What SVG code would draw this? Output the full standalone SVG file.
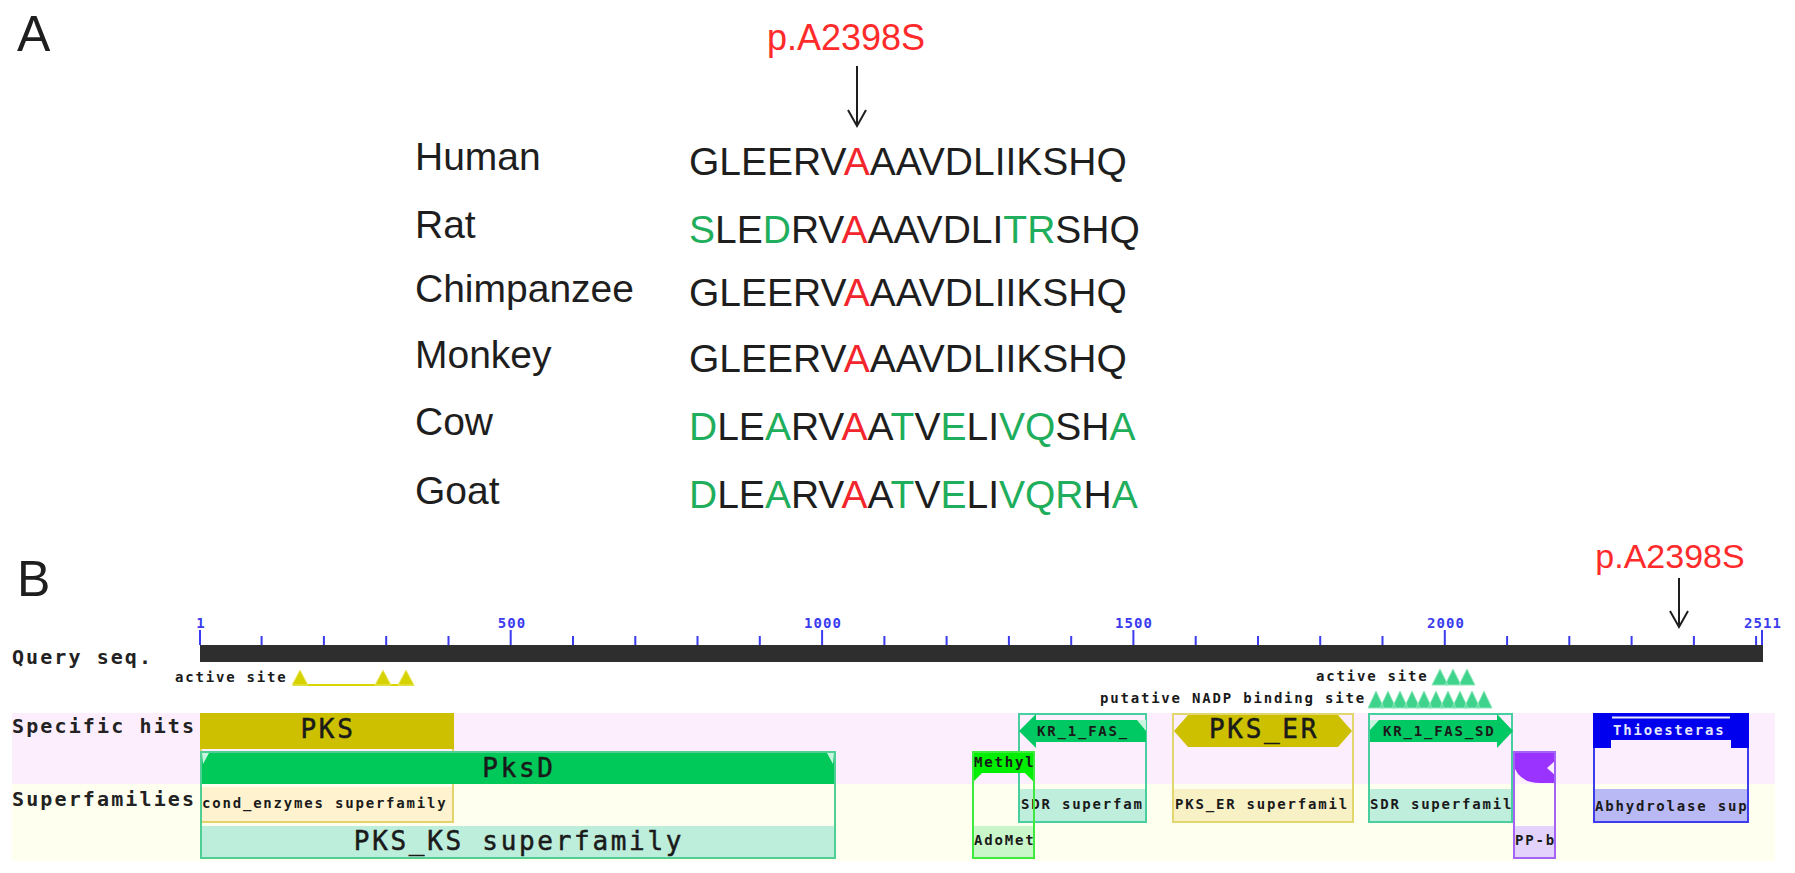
<svg xmlns="http://www.w3.org/2000/svg" width="1795" height="873" viewBox="0 0 1795 873">
<defs>
<style>
.pl{font-family:"Liberation Sans",Arial,sans-serif;fill:#1e1e1e}
.panel{font-size:50px}
.sp{font-size:39px}
.g{fill:#1fae5c}
.r{fill:#f2262c}
.mut{font-family:"Liberation Sans",Arial,sans-serif;fill:#ff2b2b;text-anchor:middle}
.arr{fill:none;stroke:#1e1e1e;stroke-width:2}
.rowlab{font-family:"DejaVu Sans Mono",monospace;font-weight:bold;font-size:20px;fill:#222}
.tick{stroke:#3b3bef;stroke-width:2;fill:none}
.tl{font-family:"DejaVu Sans Mono",monospace;font-weight:bold;font-size:14px;letter-spacing:1.1px;fill:#3b3bef;text-anchor:middle}
.sm{font-family:"DejaVu Sans Mono",monospace;font-weight:bold;font-size:14px;letter-spacing:1.8px;fill:#1a1a1a}
.big{font-family:"DejaVu Sans Mono",monospace;font-size:26px;letter-spacing:2.7px;fill:#1a1a1a;stroke:#1a1a1a;stroke-width:0.5px;text-anchor:middle}
.box{fill:none;stroke-width:2}
</style>
</defs>
<rect width="1795" height="873" fill="#ffffff"/>

<!-- Panel A -->
<g id="panelA">
<text class="pl panel" x="17" y="51">A</text>
<text id="mutA" class="mut" x="846" y="50" font-size="36">p.A2398S</text>
<g id="row-human"><text class="pl sp" x="415" y="170">Human</text><text class="pl sp" x="689" y="175">GLEERV<tspan class="r">A</tspan>AAVDLIIKSHQ</text></g>
<g id="row-rat"><text class="pl sp" x="415" y="238">Rat</text><text class="pl sp" x="689" y="243"><tspan class="g">S</tspan>LE<tspan class="g">D</tspan>RV<tspan class="r">A</tspan>AAVDLI<tspan class="g">TR</tspan>SHQ</text></g>
<g id="row-chimp"><text class="pl sp" x="415" y="302">Chimpanzee</text><text class="pl sp" x="689" y="306">GLEERV<tspan class="r">A</tspan>AAVDLIIKSHQ</text></g>
<g id="row-monkey"><text class="pl sp" x="415" y="368">Monkey</text><text class="pl sp" x="689" y="372">GLEERV<tspan class="r">A</tspan>AAVDLIIKSHQ</text></g>
<g id="row-cow"><text class="pl sp" x="415" y="435">Cow</text><text class="pl sp" x="689" y="440"><tspan class="g">D</tspan>LE<tspan class="g">A</tspan>RV<tspan class="r">A</tspan>A<tspan class="g">T</tspan>V<tspan class="g">E</tspan>LI<tspan class="g">VQ</tspan>SH<tspan class="g">A</tspan></text></g>
<g id="row-goat"><text class="pl sp" x="415" y="504">Goat</text><text class="pl sp" x="689" y="508"><tspan class="g">D</tspan>LE<tspan class="g">A</tspan>RV<tspan class="r">A</tspan>A<tspan class="g">T</tspan>V<tspan class="g">E</tspan>LI<tspan class="g">VQR</tspan>H<tspan class="g">A</tspan></text></g>
</g>

<!-- Panel B -->
<g id="panelB">
<text class="pl panel" x="17" y="596">B</text>
<text id="mutB" class="mut" x="1670" y="568" font-size="34">p.A2398S</text>
<rect id="band-specific" x="12" y="713" width="1763" height="71" fill="#fdeefd"/>
<rect id="band-super" x="12" y="784" width="1763" height="77" fill="#fffff0"/>
<text class="rowlab" x="12" y="664" textLength="139" lengthAdjust="spacing">Query seq.</text>
<text class="rowlab" x="12" y="733" textLength="182" lengthAdjust="spacing">Specific hits</text>
<text class="rowlab" x="12" y="806" textLength="182" lengthAdjust="spacing">Superfamilies</text>

<g id="query">
<rect x="200" y="645" width="1563" height="17" fill="#2e2e2e"/>
<path class="tick" d="M200,630V645M510.7,630V645M822.1,630V645M1133.4,630V645M1444.8,630V645M1762,630V645"/>
<path class="tick" d="M261.6,636V645M323.9,636V645M386.2,636V645M448.5,636V645M573,636V645M635.3,636V645M697.5,636V645M759.8,636V645M884.4,636V645M946.6,636V645M1008.9,636V645M1071.2,636V645M1195.7,636V645M1258,636V645M1320.2,636V645M1382.5,636V645M1507.1,636V645M1569.3,636V645M1631.6,636V645M1693.9,636V645M1756.1,636V645"/>
<text class="tl" x="201" y="628">1</text>
<text class="tl" x="512" y="628">500</text>
<text class="tl" x="823" y="628">1000</text>
<text class="tl" x="1134" y="628">1500</text>
<text class="tl" x="1446" y="628">2000</text>
<text class="tl" x="1763" y="628">2511</text>
</g>

<g id="site-active-1">
<text class="sm" x="175" y="682">active site</text>
<path d="M293,685H414" stroke="#d8d400" stroke-width="2"/>
<path d="M292,685L300,670L308,685ZM375,685L383,670L391,685ZM398,685L406,670L414,685Z" fill="#d6d200" stroke="#ecea70" stroke-width="1"/>
</g>
<g id="site-active-2">
<text class="sm" x="1316" y="681">active site</text>
<path d="M1432,685L1440,669L1448,685ZM1445,685L1453,669L1461,685ZM1459,685L1467,669L1475,685Z" fill="#3fd38c" stroke="#8fe8bd" stroke-width="1"/>
</g>
<g id="site-nadp">
<text class="sm" x="1100" y="703">putative NADP binding site</text>
<path d="M1368,708L1376,691L1384,708ZM1380,708L1388,691L1396,708ZM1392,708L1400,691L1408,708ZM1404,708L1412,691L1420,708ZM1416,708L1424,691L1432,708ZM1428,708L1436,691L1444,708ZM1440,708L1448,691L1456,708ZM1452,708L1460,691L1468,708ZM1464,708L1472,691L1480,708ZM1476,708L1484,691L1492,708Z" fill="#3fd38c" stroke="#8fe8bd" stroke-width="1"/>
</g>

<g id="hit-PKS">
<rect x="200" y="787" width="254" height="36" fill="#fff3cf"/>
<rect class="box" x="201" y="714" width="252" height="108" stroke="#e3d36b"/>
<rect x="200" y="713" width="254" height="36" fill="#ccc000"/>
<text class="big" x="328" y="738">PKS</text>
<text class="sm" x="202" y="808">cond_enzymes superfamily</text>
</g>

<g id="hit-PksD">
<rect x="200" y="826" width="636" height="33" fill="#bdeedb"/>
<rect x="200" y="751" width="636" height="33" fill="#00c95a"/>
<path d="M202,753L209,753L203,764ZM834,753L827,753L833,764Z" fill="#c8f5e0"/>
<rect class="box" x="201" y="752" width="634" height="106" stroke="#4fcf93"/>
<text class="big" x="519" y="777">PksD</text>
<text class="big" x="519" y="850">PKS_KS superfamily</text>
</g>

<g id="hit-KR1">
<rect x="1018" y="789" width="129" height="34" fill="#bfeedd"/>
<rect class="box" x="1019" y="714" width="127" height="108" stroke="#47cfa0"/>
<path d="M1019,731L1036,714V720H1146V742H1036V748Z" fill="#00c863"/>
<path d="M1146,720L1137,720L1146,731Z" fill="#c8f5e0"/>
<text class="sm" x="1037" y="736">KR_1_FAS_</text>
<text class="sm" x="1021" y="809">SDR superfam</text>
</g>

<g id="hit-Methyl">
<rect x="972" y="826" width="63" height="33" fill="#c9f7c9"/>
<path d="M972,751H1035V783L1025,773H982L972,783Z" fill="#00ee00"/>
<rect class="box" x="973" y="752" width="61" height="106" stroke="#3dea3d"/>
<text class="sm" x="974" y="767">Methyl</text>
<text class="sm" x="974" y="845">AdoMet</text>
</g>

<g id="hit-PKS_ER">
<rect x="1172" y="789" width="182" height="34" fill="#f8f1c6"/>
<rect class="box" x="1173" y="714" width="180" height="108" stroke="#e2d66e"/>
<path d="M1174,731L1188,715H1338L1352,731L1338,747H1188Z" fill="#ccc000"/>
<text class="big" x="1264" y="738">PKS_ER</text>
<text class="sm" x="1175" y="809">PKS_ER superfamil</text>
</g>

<g id="hit-KR2">
<rect x="1368" y="789" width="145" height="34" fill="#bfeedd"/>
<rect class="box" x="1369" y="714" width="143" height="108" stroke="#47cfa0"/>
<path d="M1370,720H1497V714L1513,731L1497,748V742H1370Z" fill="#00c863"/>
<path d="M1370,720L1379,720L1370,730Z" fill="#c8f5e0"/>
<text class="sm" x="1383" y="736">KR_1_FAS_SD</text>
<text class="sm" x="1370" y="809">SDR superfamil</text>
</g>

<g id="hit-PPb">
<rect x="1513" y="826" width="43" height="33" fill="#e2d2fc"/>
<path d="M1513,751H1556V760L1547,768L1556,776V783H1540Q1518,783 1513,763Z" fill="#9a33ff"/>
<rect class="box" x="1514" y="752" width="41" height="106" stroke="#a463f5"/>
<text class="sm" x="1515" y="845">PP-b</text>
</g>

<g id="hit-Thio">
<rect x="1593" y="789" width="156" height="34" fill="#b9b9f6"/>
<rect class="box" x="1594" y="714" width="154" height="108" stroke="#3d3dee"/>
<path d="M1593,713H1749V748H1731V740H1611V748H1593Z" fill="#0000ee"/>
<path d="M1612,717.5H1730" stroke="#e8e8ff" stroke-width="2"/>
<text class="sm" x="1613" y="735" style="fill:#e6e6ff">Thioesteras</text>
<text class="sm" x="1595" y="811">Abhydrolase sup</text>
</g>
</g>

<g id="connectors">
<path class="arr" d="M857,66V126M848,110L857,126L866,110"/>
<path class="arr" d="M1679,578V627M1670,611L1679,627L1688,611"/>
</g>
</svg>
